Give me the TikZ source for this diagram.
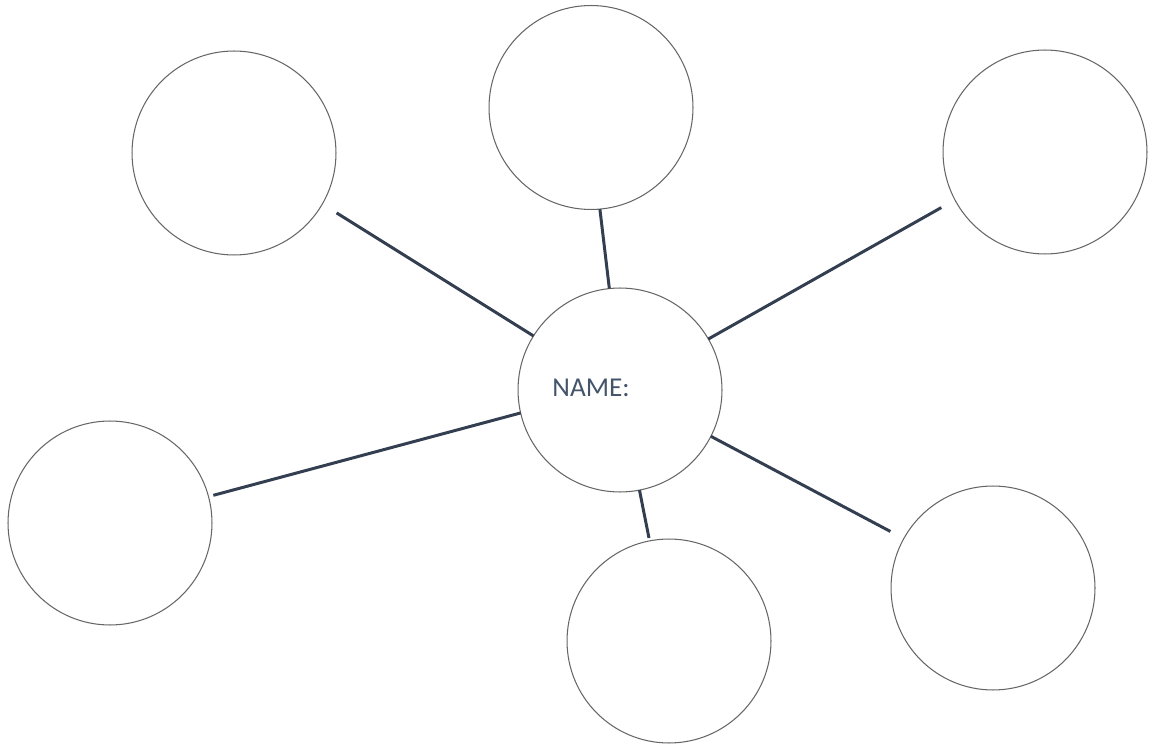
\documentclass[tikz,border=0pt]{standalone}
\usepackage{fontspec}
\setmainfont{Carlito}
\usetikzlibrary{positioning}

\definecolor{spoke}{HTML}{333F50}
\definecolor{nametext}{HTML}{44546A}

\begin{document}
\begin{tikzpicture}[x=0.02cm,y=-0.02cm,
        bubble/.style={circle,draw=black!60,line width=0.6pt,
            minimum size=4.08cm,inner sep=0pt,outer sep=0pt},
        spoke line/.style={draw=spoke,line width=1.7pt}]

        \useasboundingbox (0,0) rectangle (1149,746);

        \node[bubble,label={[text=nametext,font=\fontsize{15.5}{18}\selectfont,
            xshift=-0.58cm,yshift=0.04cm]center:NAME:}] (c) at (620,390) {};
        \node[bubble] (tl) at (234,153) {};
        \node[bubble] (top) at (591,107.5) {};
        \node[bubble] (tr) at (1045,152) {};
        \node[bubble] (left) at (110,523) {};
        \node[bubble] (bot) at (669,641) {};
        \node[bubble] (br) at (993,588) {};

        \path[spoke line]
        (c.148.2) edge [shorten >=0.337cm] (tl.-30.7)
        (c.96.1) edge (top.-85)
        (c.30.3) edge [shorten >=0.314cm] (tr.208.9)
        (c.193.1) edge [shorten >=0.1cm] (left.15.75)
        (c.-79.2) edge [shorten >=0.06cm] (bot.101.5)
        (c.-27.8) edge [shorten >=0.304cm] (br.151.4)
        ;
    \end{tikzpicture}
\end{document}
